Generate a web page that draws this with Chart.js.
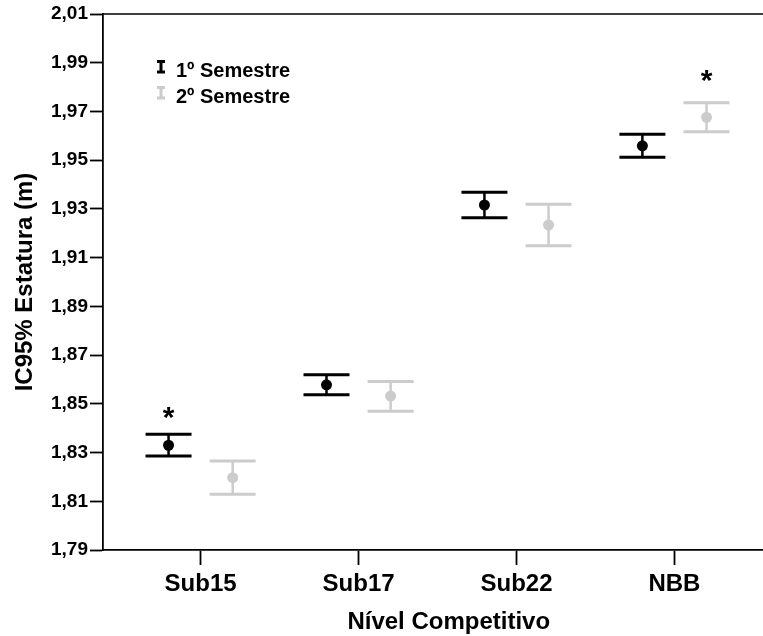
<!DOCTYPE html>
<html>
<head>
<meta charset="utf-8">
<script src="https://cdn.jsdelivr.net/npm/chart.js@4"></script>
<style>
  html, body { margin: 0; padding: 0; background: #fff; overflow: hidden; }
  #wrap { width: 763px; height: 636px; overflow: hidden; }
</style>
</head>
<body>
<div id="wrap"><canvas id="chart" width="800" height="636"></canvas></div>
<script>
// dados
const categories = ['Sub15', 'Sub17', 'Sub22', 'NBB'];
const seriesNames = ['1º Semestre', '2º Semestre'];
const mean1 = [1.8330, 1.8578, 1.9316, 1.9559];
const low1  = [1.8286, 1.8537, 1.9264, 1.9512];
const high1 = [1.8375, 1.8619, 1.9368, 1.9606];
const mean2 = [1.8197, 1.8532, 1.9234, 1.9676];
const low2  = [1.8129, 1.8470, 1.9149, 1.9617];
const high2 = [1.8265, 1.8592, 1.9319, 1.9736];
const yTicks = [1.79, 1.81, 1.83, 1.85, 1.87, 1.89, 1.91, 1.93, 1.95, 1.97, 1.99, 2.01];
// asteriscos (diferença significativa)
const starCategory = [0, 3];
const starSeries = [0, 1];
const starValue = [1.8475, 1.9859];

const FONT = '"Liberation Sans", Arial, sans-serif';
const colors = ['#000000', '#cccccc'];
const DODGE = 0.203;
const CAP = 23;

function points(means, s) {
    return means.map((m, i) => ({ x: i + 1 + (s === 0 ? -DODGE : DODGE), y: m }));
}

const errorBars = {
    id: 'errorBars',
    beforeDatasetsDraw(chart) {
        const ctx = chart.ctx;
        const xs = chart.scales.x, ys = chart.scales.y;
        chart.data.datasets.forEach((ds, s) => {
            ctx.save();
            ctx.strokeStyle = ds.backgroundColor;
            ds.low.forEach((lo, i) => {
                const px = xs.getPixelForValue(ds.data[i].x);
                const y1 = ys.getPixelForValue(lo);
                const y2 = ys.getPixelForValue(ds.high[i]);
                ctx.lineWidth = 2.5;
                ctx.beginPath();
                ctx.moveTo(px, y1); ctx.lineTo(px, y2);
                ctx.stroke();
                ctx.lineWidth = 3;
                ctx.beginPath();
                ctx.moveTo(px - CAP, y1); ctx.lineTo(px + CAP, y1);
                ctx.moveTo(px - CAP, y2); ctx.lineTo(px + CAP, y2);
                ctx.stroke();
            });
            ctx.restore();
        });
    },
    afterDraw(chart) {
        const ctx = chart.ctx;
        const a = chart.chartArea;
        const xs = chart.scales.x, ys = chart.scales.y;
        ctx.save();
        // moldura superior
        ctx.strokeStyle = '#000';
        ctx.lineWidth = 1.5;
        ctx.beginPath();
        ctx.moveTo(a.left, a.top); ctx.lineTo(a.right, a.top);
        ctx.stroke();

        // asteriscos
        ctx.fillStyle = '#000';
        ctx.font = 'bold 30px ' + FONT;
        ctx.textAlign = 'center';
        ctx.textBaseline = 'alphabetic';
        starCategory.forEach((c, k) => {
            const px = xs.getPixelForValue(c + 1 + (starSeries[k] === 0 ? -DODGE : DODGE));
            const py = ys.getPixelForValue(starValue[k]);
            ctx.fillText('*', px, py + 17);
        });

        // legenda
        ctx.font = 'bold 20px ' + FONT;
        ctx.textAlign = 'left';
        seriesNames.forEach((name, s) => {
            const base = 77 + s * 26;
            const top = base - 16.5, bot = base - 4;
            ctx.strokeStyle = colors[s];
            ctx.lineWidth = 3;
            ctx.beginPath();
            ctx.moveTo(161, top); ctx.lineTo(161, bot);
            ctx.moveTo(157, top + 1); ctx.lineTo(165, top + 1);
            ctx.moveTo(157, bot - 1); ctx.lineTo(165, bot - 1);
            ctx.stroke();
            ctx.fillStyle = '#000';
            ctx.fillText(name, 176, base);
        });
        ctx.restore();
    }
};

new Chart(document.getElementById('chart'), {
    type: 'scatter',
    data: {
        datasets: [
            {
                label: seriesNames[0],
                data: points(mean1, 0),
                low: low1, high: high1,
                backgroundColor: colors[0],
                borderWidth: 0,
                pointRadius: 5.5
            },
            {
                label: seriesNames[1],
                data: points(mean2, 1),
                low: low2, high: high2,
                backgroundColor: colors[1],
                borderWidth: 0,
                pointRadius: 5.5
            }
        ]
    },
    options: {
        responsive: false,
        animation: false,
        devicePixelRatio: 1,
        layout: { padding: { top: 14, left: 0, right: 0, bottom: 0 } },
        plugins: {
            legend: { display: false },
            tooltip: { enabled: false }
        },
        scales: {
            x: {
                type: 'linear',
                min: 0.382,
                max: 4.76,
                afterFit(scale) { scale.height = 86; },
                afterBuildTicks(scale) {
                    scale.ticks = categories.map((c, i) => ({ value: i + 1 }));
                },
                ticks: {
                    callback: (v) => categories[v - 1],
                    color: '#000',
                    font: { family: FONT, size: 24, weight: 'bold' },
                    padding: 5,
                    maxRotation: 0
                },
                grid: {
                    drawOnChartArea: false,
                    tickLength: 15,
                    tickColor: '#000',
                    tickWidth: 1.8
                },
                border: { color: '#000', width: 1.8 },
                title: {
                    display: true,
                    text: 'Nível Competitivo',
                    color: '#000',
                    font: { family: FONT, size: 24, weight: 'bold', lineHeight: 1 },
                    padding: { top: 0, bottom: 2 }
                }
            },
            y: {
                min: 1.79,
                max: 2.01,
                afterFit(scale) { scale.width = 103; },
                afterBuildTicks(scale) {
                    scale.ticks = yTicks.map(v => ({ value: v }));
                },
                ticks: {
                    callback: (v) => v.toFixed(2).replace('.', ','),
                    color: '#000',
                    font: { family: FONT, size: 19, weight: 'bold' },
                    padding: 2
                },
                grid: {
                    drawOnChartArea: false,
                    tickLength: 13,
                    tickColor: '#000',
                    tickWidth: 1.8
                },
                border: { color: '#000', width: 1.8 },
                title: {
                    display: true,
                    text: 'IC95% Estatura (m)',
                    color: '#000',
                    font: { family: FONT, size: 24, weight: 'bold', lineHeight: 1 },
                    padding: { top: 13, bottom: 0 }
                }
            }
        }
    },
    plugins: [errorBars]
});
</script>
</body>
</html>
